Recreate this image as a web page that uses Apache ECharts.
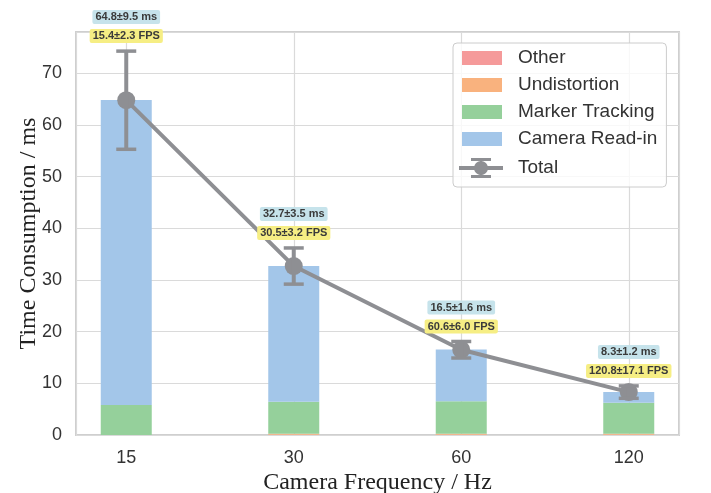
<!DOCTYPE html>
<html>
<head>
<meta charset="utf-8">
<script src="https://cdn.jsdelivr.net/npm/echarts@6/dist/echarts.min.js"></script>
<style>
  html, body { margin: 0; padding: 0; background: #ffffff; }
  #chart { width: 711px; height: 493px; }
</style>
</head>
<body>
<div id="chart"></div>
<script>
// Camera frequencies (Hz) shown along the x axis
const categories = ['15', '30', '60', '120'];

// Per-stage time consumption in ms, stacked from bottom to top
const otherMs = [0.02, 0.03, 0.03, 0.03];
const undistortionMs = [0.0, 0.2, 0.2, 0.2];
const markerTrackingMs = [5.8, 6.2, 6.3, 6.0];
const cameraReadInMs = [59.0, 26.3, 10.0, 2.1];

// Total frame time (mean and standard deviation, ms) and resulting frame rate
const totalMs = [64.8, 32.7, 16.5, 8.3];
const totalStdMs = [9.5, 3.5, 1.6, 1.2];
const fpsMean = [15.4, 30.5, 60.6, 120.8];
const fpsStd = [2.3, 3.2, 6.0, 17.1];

const GRAY = '#8e8f93';
const SANS = '"Liberation Sans", Arial, sans-serif';
const SERIF = '"Liberation Serif", "Times New Roman", serif';

// Plot frame: x runs from -0.3 to 3.3 so each frequency sits at an integer position
const PLOT = { left: 76, right: 32, top: 32, bottom: 58 };
const X_MIN = -0.3, X_MAX = 3.3;
const plotWidth = 711 - PLOT.left - PLOT.right;
const unitPx = plotWidth / (X_MAX - X_MIN);
// The stacked bars live on a category axis whose band centres line up with x = 0..3
const barGridLeft = PLOT.left + (0 - X_MIN) * unitPx - unitPx / 2;
const barGridRight = 711 - barGridLeft - unitPx * categories.length;

const toPoints = (arr) => arr.map((v, i) => [i, v]);

const barSeries = (name, values, color) => ({
  name,
  type: 'bar',
  stack: 'time',
  xAxisIndex: 1,
  yAxisIndex: 1,
  data: values,
  barWidth: 51,
  itemStyle: { color },
  emphasis: { disabled: true },
  z: 2
});

const totalIcon = 'path://M0,8 L44,8 L44,12 L0,12 Z ' +
  'M29,10 A7,7 0 1,1 15,10 A7,7 0 1,1 29,10 Z ' +
  'M20.5,0 L23.5,0 L23.5,20 L20.5,20 Z ' +
  'M12,0 L32,0 L32,3 L12,3 Z ' +
  'M12,17 L32,17 L32,20 L12,20 Z';

const legendText = { fontFamily: SANS, fontSize: 19, lineHeight: 22, color: '#333333', padding: [0, 0, 0, 11] };

const chart = echarts.init(document.getElementById('chart'), null, { renderer: 'canvas' });

chart.setOption({
  animation: false,
  backgroundColor: '#ffffff',
  grid: [
    {
      left: PLOT.left, right: PLOT.right, top: PLOT.top, bottom: PLOT.bottom,
      outerBoundsMode: 'none',
      show: true, borderColor: '#cfcfcf', borderWidth: 2, backgroundColor: 'transparent'
    },
    {
      left: barGridLeft, right: barGridRight, top: PLOT.top, bottom: PLOT.bottom,
      outerBoundsMode: 'none',
      show: false
    }
  ],
  legend: [
    {
      orient: 'vertical',
      left: 453, top: 43,
      padding: [4, 9, 37, 9],
      itemWidth: 40, itemHeight: 14, itemGap: 5,
      backgroundColor: 'rgba(255,255,255,0.8)',
      borderColor: '#cccccc', borderWidth: 1, borderRadius: 4,
      textStyle: legendText,
      data: ['Other', 'Undistortion', 'Marker Tracking', 'Camera Read-in'],
      icon: 'rect',
      selectedMode: false
    },
    {
      orient: 'vertical',
      left: 459, top: 157,
      padding: 0,
      itemWidth: 44, itemHeight: 20,
      textStyle: Object.assign({}, legendText, { padding: [0, 0, 0, 10] }),
      data: [{ name: 'Total', icon: totalIcon, itemStyle: { color: GRAY, borderWidth: 0 } }],
      selectedMode: false
    }
  ],
  xAxis: [
    {
      type: 'value',
      gridIndex: 0,
      min: X_MIN, max: X_MAX,
      minInterval: 1, maxInterval: 1,
      axisLine: { show: false },
      axisTick: { show: false },
      splitLine: { show: true, lineStyle: { color: '#dadada', width: 1.2 } },
      axisLabel: {
        margin: 14,
        fontFamily: SANS, fontSize: 18, color: '#333333',
        formatter: (v) => (Number.isInteger(v) && categories[v] !== undefined ? categories[v] : '')
      },
      name: 'Camera Frequency / Hz',
      nameLocation: 'middle',
      nameGap: 36,
      nameMoveOverlap: false,
      nameTextStyle: { fontFamily: SERIF, fontSize: 24, color: '#222222' }
    },
    {
      type: 'category',
      gridIndex: 1,
      data: categories,
      boundaryGap: true,
      show: false
    }
  ],
  yAxis: [
    {
      type: 'value',
      gridIndex: 0,
      min: 0, max: 78, interval: 10,
      axisLine: { show: false },
      axisTick: { show: false },
      splitLine: { show: true, lineStyle: { color: '#dadada', width: 1.2 } },
      axisLabel: {
        margin: 14, showMaxLabel: false,
        fontFamily: SANS, fontSize: 18, color: '#333333'
      },
      name: 'Time Consumption / ms',
      nameLocation: 'middle',
      nameGap: 35,
      nameMoveOverlap: false,
      nameTextStyle: { fontFamily: SERIF, fontSize: 24, color: '#222222' }
    },
    {
      type: 'value',
      gridIndex: 1,
      min: 0, max: 78, interval: 10,
      show: false,
      splitLine: { show: false }
    }
  ],
  series: [
    barSeries('Other', otherMs, '#f59a9a'),
    barSeries('Undistortion', undistortionMs, '#f9b27e'),
    barSeries('Marker Tracking', markerTrackingMs, '#95d09b'),
    barSeries('Camera Read-in', cameraReadInMs, '#a3c6e9'),
    {
      name: 'Total',
      type: 'line',
      data: toPoints(totalMs),
      symbol: 'circle',
      symbolSize: 18,
      lineStyle: { color: GRAY, width: 4 },
      itemStyle: { color: GRAY },
      emphasis: { disabled: true },
      z: 3
    },
    {
      // error bars with the ms / FPS annotations above each one
      name: 'Total error',
      type: 'custom',
      data: totalMs.map((m, i) => [i, m, totalStdMs[i], fpsMean[i], fpsStd[i]]),
      z: 5,
      clip: false,
      renderItem: (params, api) => {
        const x = api.value(0), m = api.value(1), s = api.value(2);
        const fps = api.value(3), fs = api.value(4);
        const top = api.coord([x, m + s]);
        const bot = api.coord([x, m - s]);
        const capHalf = 10;
        const labelFont = 'bold 11px ' + SANS;
        return {
          type: 'group',
          children: [
            { type: 'line', shape: { x1: top[0], y1: top[1], x2: bot[0], y2: bot[1] },
              style: { stroke: GRAY, lineWidth: 4 } },
            { type: 'line', shape: { x1: top[0] - capHalf, y1: top[1], x2: top[0] + capHalf, y2: top[1] },
              style: { stroke: GRAY, lineWidth: 3.5 } },
            { type: 'line', shape: { x1: bot[0] - capHalf, y1: bot[1], x2: bot[0] + capHalf, y2: bot[1] },
              style: { stroke: GRAY, lineWidth: 3.5 } },
            { type: 'text', x: top[0], y: top[1] - 34,
              style: { text: m.toFixed(1) + '±' + s.toFixed(1) + ' ms', font: labelFont, fill: '#3a3a3a',
                       align: 'center', verticalAlign: 'middle',
                       backgroundColor: '#c6e3eb', padding: [2, 3, 1, 3], borderRadius: 2 } },
            { type: 'text', x: top[0], y: top[1] - 15,
              style: { text: fps.toFixed(1) + '±' + fs.toFixed(1) + ' FPS', font: labelFont, fill: '#3a3a3a',
                       align: 'center', verticalAlign: 'middle',
                       backgroundColor: '#f6ee84', padding: [2, 3, 1, 3], borderRadius: 2 } }
          ]
        };
      }
    }
  ]
});
</script>
</body>
</html>
